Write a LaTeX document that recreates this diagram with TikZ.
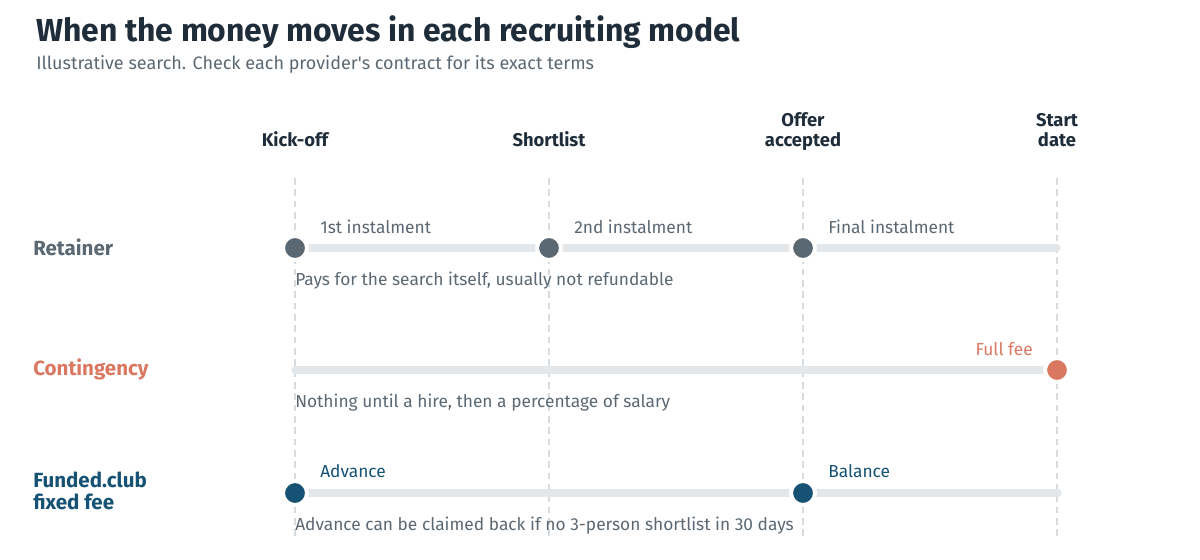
\documentclass[tikz,border=0pt]{standalone}
\usepackage{fontspec}
\setmainfont{Fira Sans}
\usetikzlibrary{positioning}
\definecolor{ink}{HTML}{1F2D3A}
\definecolor{muted}{HTML}{5B6873}
\definecolor{retain}{HTML}{5A6874}
\definecolor{conting}{HTML}{DA7760}
\definecolor{funded}{HTML}{155274}
\definecolor{track}{HTML}{E3E7EA}
\definecolor{guide}{HTML}{D5DBDF}

\begin{document}
\begin{tikzpicture}[
    x=0.75pt, y=-0.75pt,
    heading/.style={anchor=south west, inner sep=0pt, text depth=0pt, text=ink, font=\bfseries\fontsize{23.9}{27}\selectfont},
    subheading/.style={anchor=south west, inner sep=0pt, text depth=0pt, text=muted, font=\fontsize{13.5}{15}\selectfont},
    stage/.style={anchor=south, inner sep=0pt, text depth=0pt, align=center, text=ink, font=\bfseries\fontsize{13.8}{15}\selectfont},
    model/.style={anchor=west, inner sep=0pt, align=left, font=\bfseries\fontsize{15.4}{16}\selectfont},
    pay/.style={anchor=west, inner sep=0pt, font=\fontsize{13}{15}\selectfont},
    note/.style={anchor=west, inner sep=0pt, text=muted, font=\fontsize{13}{15}\selectfont},
    dot/.style={circle, draw=white, line width=3pt, minimum size=18pt, inner sep=0pt},
    guideline/.style={guide, line width=1.1pt, dash pattern=on 5pt off 3.5pt},
    bar/.style={track, line width=5.5pt, line cap=round}
]
\useasboundingbox (0,0) rectangle (1200,560);

% Title
\node[heading] (title) at (36,42) {When the money moves in each recruiting model};
\node[subheading] (sub) at (36,70) {Illustrative search. Check each provider\textquotesingle s contract for its exact terms};

% Stages
\node[stage] (kick) at (295,147) {Kick-off};
\node[stage] (short) at (549,147) {Shortlist};
\node[stage] (offer) at (803,147) {Offer\\accepted};
\node[stage] (start) at (1057,147) {Start\\date};

\coordinate (kicktop) at (295,178);   \coordinate (kickbot) at (295,540);
\coordinate (shorttop) at (549,178);  \coordinate (shortbot) at (549,540);
\coordinate (offertop) at (803,178);  \coordinate (offerbot) at (803,540);
\coordinate (starttop) at (1057,178); \coordinate (startbot) at (1057,540);

\draw[guideline] (kicktop) -- (kickbot);
\draw[guideline] (shorttop) -- (shortbot);
\draw[guideline] (offertop) -- (offerbot);
\draw[guideline] (starttop) -- (startbot);

% Tracks
\coordinate (rs) at (295,248); \coordinate (re) at (1057,248);
\coordinate (cs) at (295,370); \coordinate (ce) at (1057,370);
\coordinate (fs) at (295,493); \coordinate (fe) at (1058,493);
\draw[bar] (rs) -- (re);
\draw[bar] (cs) -- (ce);
\draw[bar] (fs) -- (fe);

% Retainer
\node[model, text=retain] (ret) at (33,247) {Retainer};
\node[dot, fill=retain] (r1) at (295,248) {};
\node[dot, fill=retain] (r2) at (549,248) {};
\node[dot, fill=retain] (r3) at (803,248) {};
\node[pay, text=muted] (r1t) at (320,227) {1st instalment};
\node[pay, text=muted] (r2t) at (574,227) {2nd instalment};
\node[pay, text=muted] (r3t) at (828,227) {Final instalment};
\node[note] (retnote) at (295,281) {Pays for the search itself, usually not refundable};

% Contingency
\node[model, text=conting] (con) at (33,369) {Contingency};
\node[dot, fill=conting] (c1) at (1057,370) {};
\node[pay, text=conting, anchor=east] (c1t) at (1033,349) {Full fee};
\node[note] (connote) at (295,403) {Nothing until a hire, then a percentage of salary};

% Funded.club
\node[model, text=funded] (fun) at (33,491) {Funded.club\\fixed fee};
\node[dot, fill=funded] (f1) at (295,493) {};
\node[dot, fill=funded] (f2) at (803,493) {};
\node[pay, text=funded] (f1t) at (320,471) {Advance};
\node[pay, text=funded] (f2t) at (828,471) {Balance};
\node[note] (funnote) at (295,526) {Advance can be claimed back if no 3-person shortlist in 30 days};

\end{tikzpicture}
\end{document}
